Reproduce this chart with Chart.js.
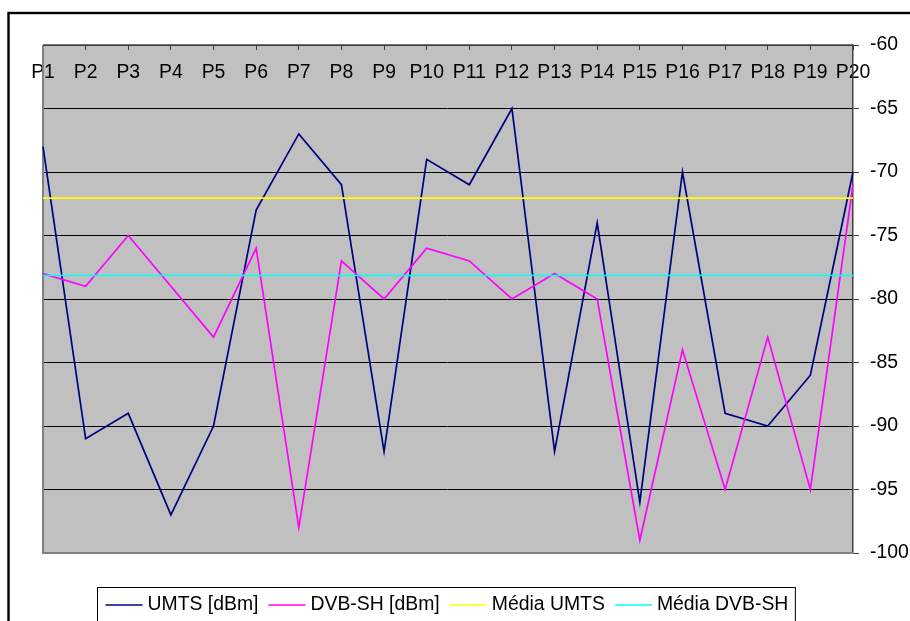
<!DOCTYPE html>
<html>
<head>
<meta charset="utf-8">
<script src="https://cdn.jsdelivr.net/npm/chart.js@4/dist/chart.umd.min.js"></script>
<style>
  html, body { margin: 0; padding: 0; background: #fff; }
  #wrap { width: 910px; height: 621px; position: relative; }
</style>
</head>
<body>
<div id="wrap"><canvas id="c" width="910" height="621"></canvas></div>
<script>
const categories = ['P1','P2','P3','P4','P5','P6','P7','P8','P9','P10','P11','P12','P13','P14','P15','P16','P17','P18','P19','P20'];
const umts = [-68,-91,-89,-97,-90,-73,-67,-71,-92,-69,-71,-65,-92,-74,-96,-70,-89,-90,-86,-70];
const dvbsh = [-78,-79,-75,-79,-83,-76,-98,-77,-80,-76,-77,-80,-78,-80,-99,-84,-95,-83,-95,-71];
const mediaUmts = [-72.05,-72.05,-72.05,-72.05,-72.05,-72.05,-72.05,-72.05,-72.05,-72.05,-72.05,-72.05,-72.05,-72.05,-72.05,-72.05,-72.05,-72.05,-72.05,-72.05];
const mediaDvbsh = [-78.15,-78.15,-78.15,-78.15,-78.15,-78.15,-78.15,-78.15,-78.15,-78.15,-78.15,-78.15,-78.15,-78.15,-78.15,-78.15,-78.15,-78.15,-78.15,-78.15];
const seriesLabels = ['UMTS [dBm]', 'DVB-SH [dBm]', 'Média UMTS', 'Média DVB-SH'];
const yMin = -100, yMax = -60, yStep = 5;

const FONT = '"Liberation Sans", Arial, sans-serif';
const FS = 19.4;

const bgPlugin = {
  id: 'bg',
  beforeDraw(chart) {
    const {ctx, chartArea: a} = chart;
    ctx.save();
    ctx.fillStyle = '#C0C0C0';
    ctx.fillRect(a.left, a.top, a.right - a.left, a.bottom - a.top);
    ctx.strokeStyle = '#000';
    ctx.lineWidth = 2.4;
    ctx.strokeRect(8.5, 13, 1200, 1200);
    ctx.restore();
  },
  beforeDatasetsDraw(chart) {
    const {ctx, chartArea: a} = chart;
    ctx.save();
    ctx.strokeStyle = '#808080';
    ctx.lineWidth = 2;
    ctx.beginPath();
    ctx.moveTo(a.left, a.top);
    ctx.lineTo(a.left, a.bottom);
    ctx.lineTo(a.right, a.bottom);
    ctx.stroke();
    ctx.strokeStyle = '#404040';
    ctx.lineWidth = 1.5;
    ctx.beginPath();
    ctx.moveTo(a.left, a.top);
    ctx.lineTo(a.right, a.top);
    ctx.stroke();
    ctx.restore();
  },
  afterDraw(chart) {
    const {ctx} = chart;
    const ds = chart.data.datasets;
    ctx.save();
    ctx.font = FS + 'px ' + FONT;
    const lineLen = 37, gapLT = 5, gapItems = 10, padL = 8, padR = 7;
    let total = padL + padR;
    const widths = ds.map(d => ctx.measureText(d.label).width);
    widths.forEach((w, i) => { total += lineLen + gapLT + w + (i < widths.length - 1 ? gapItems : 0); });
    const cx = 446;
    const left = Math.round(cx - total / 2) + 0.5;
    const top = 587.5;
    ctx.strokeStyle = '#000';
    ctx.lineWidth = 1;
    ctx.strokeRect(left, top, total, 60);
    let x = left + padL;
    const lineY = 605;
    ctx.textBaseline = 'alphabetic';
    ctx.textAlign = 'left';
    ds.forEach((d, i) => {
      ctx.strokeStyle = d.borderColor;
      ctx.lineWidth = 1.6;
      ctx.beginPath();
      ctx.moveTo(x, lineY);
      ctx.lineTo(x + lineLen, lineY);
      ctx.stroke();
      x += lineLen + gapLT;
      ctx.fillStyle = '#000';
      ctx.fillText(d.label, x, 610);
      x += widths[i] + gapItems;
    });
    ctx.restore();
  }
};

const mk = (label, data, color, order) => ({
  label, data, borderColor: color, backgroundColor: color,
  borderWidth: 1.7, pointRadius: 0, pointHoverRadius: 0, tension: 0, fill: false, order
});

new Chart(document.getElementById('c'), {
  type: 'line',
  data: {
    labels: categories,
    datasets: [
      mk(seriesLabels[0], umts, '#000080', 4),
      mk(seriesLabels[1], dvbsh, '#FF00FF', 3),
      mk(seriesLabels[2], mediaUmts, '#FFFF00', 2),
      mk(seriesLabels[3], mediaDvbsh, '#00FFFF', 1)
    ]
  },
  options: {
    responsive: false,
    animation: false,
    devicePixelRatio: 1,
    layout: { padding: { left: 43, top: 45, right: 0, bottom: 68 } },
    plugins: { legend: { display: false }, tooltip: { enabled: false }, title: { display: false } },
    scales: {
      x: {
        type: 'category',
        position: { y: yMax },
        offset: false,
        grid: { display: true, drawOnChartArea: false, drawTicks: true, tickLength: 5, color: '#404040', lineWidth: 1 },
        border: { display: false },
        ticks: {
          color: '#000', font: { family: FONT, size: FS, lineHeight: 1.2 },
          padding: 11, maxRotation: 0, minRotation: 0, autoSkip: false
        }
      },
      y: {
        position: 'right',
        min: yMin, max: yMax,
        grid: {
          drawTicks: true, tickLength: 6, tickColor: '#404040', lineWidth: 1,
          color: (c) => (c.tick && (c.tick.value === yMin)) ? 'rgba(0,0,0,0)' : (c.tick && c.tick.value === yMax ? '#404040' : '#000')
        },
        border: { display: true, color: '#404040', width: 1.5 },
        ticks: {
          stepSize: yStep, color: '#000', font: { family: FONT, size: FS }, padding: 11,
          callback: (v) => String(v)
        },
        afterFit(scale) { scale.width = 57; }
      }
    }
  },
  plugins: [bgPlugin]
});
</script>
</body>
</html>
